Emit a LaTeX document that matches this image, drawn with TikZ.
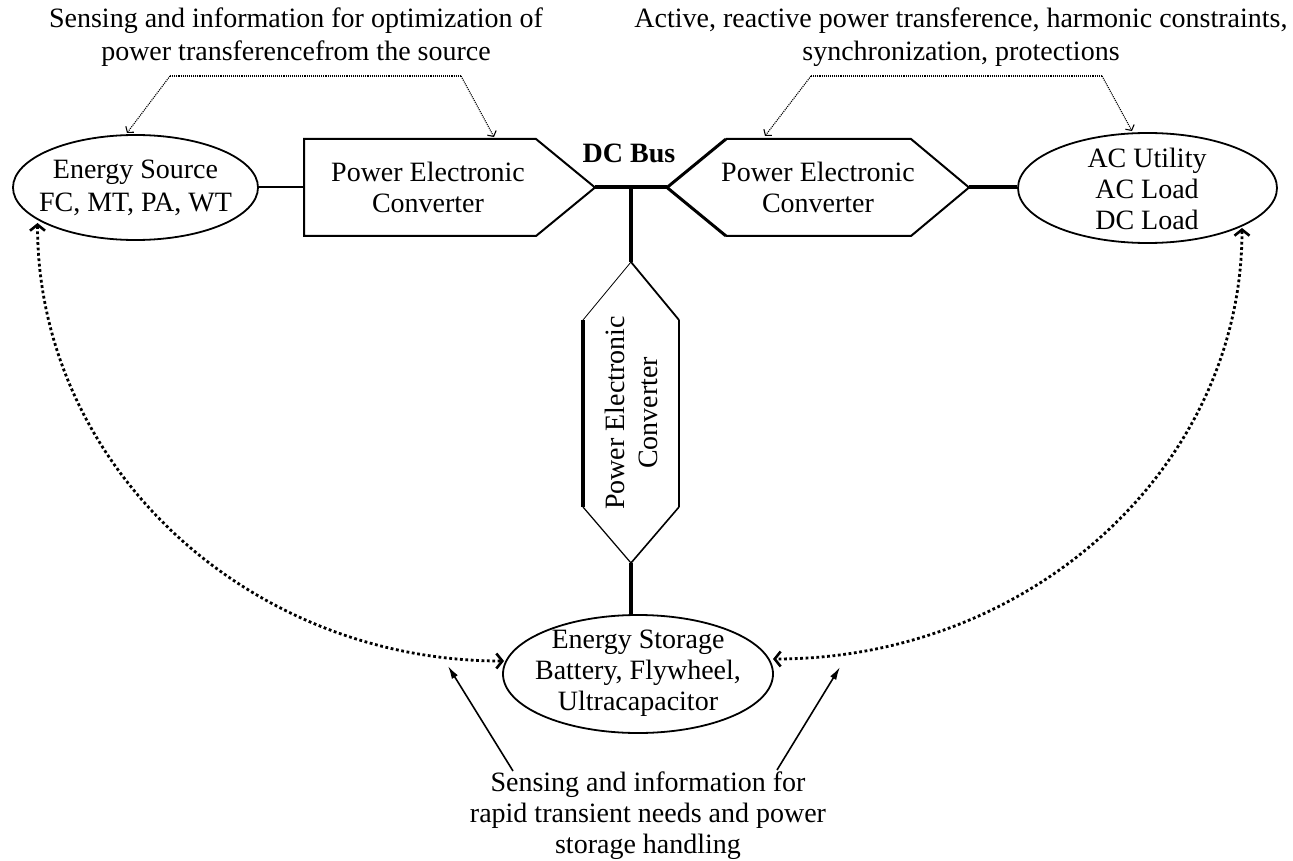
\documentclass[tikz,border=0pt]{standalone}
\usepackage{fontspec}
\setmainfont{Liberation Serif}
\usetikzlibrary{arrows.meta,shapes.geometric,calc}
\begin{document}
\begin{tikzpicture}[x=1pt,y=-1pt,
  every node/.style={font=\fontsize{28}{31}\selectfont, align=center, inner sep=0pt},
  wide/.style={font=\fontsize{28}{33}\selectfont},
  ell/.style={draw, ellipse, line width=1.8pt},
  box/.style={draw, line width=2pt, line join=miter},
  bus/.style={line width=4pt},
  note/.style={line width=1.1pt, densely dotted},
  notetip/.style={-{Straight Barb[length=4pt,width=10pt,line width=1.1pt]}},
  bigdot/.style={line width=2.8pt, dash pattern=on 2.8pt off 2.6pt,
     {Straight Barb[length=6pt,width=15pt,line width=2.6pt]}-{Straight Barb[length=6pt,width=15pt,line width=2.6pt]}},
  solidarrow/.style={line width=1.6pt, -{Latex[length=13pt,width=7pt]}}
]
\useasboundingbox (0,0) rectangle (1293,861);

% top texts
\node[wide] (t1) at (296,37) {Sensing and information for optimization of\\power transferencefrom the source};
\node[wide] (t2) at (961,37) {Active, reactive power transference, harmonic constraints,\\synchronization, protections};

% energy source
\node[ell, minimum width=245pt, minimum height=105pt] (src) at (135.5,187.5) {};
\node[wide] (srcT) at (src) {Energy Source\\FC, MT, PA, WT};

% left converter
\coordinate (c1L) at (304,187.5);
\coordinate (c1R) at (595,187.5);
\draw[box] (304,139) -- (536,139) -- (c1R) -- (536,236) -- (304,236) -- cycle;
\node (c1) at (428,187.5) {Power Electronic\\Converter};

% right converter
\coordinate (c2L) at (667,187.5);
\coordinate (c2R) at (969,187.5);
\draw[line width=3pt] (726,139) -- (c2L) -- (726,236);
\draw[box] (726,139) -- (911,139) -- (c2R) -- (911,236) -- (726,236);
\node (c2) at (818,187.5) {Power Electronic\\Converter};

% AC side
\node[ell, minimum width=259pt, minimum height=110pt] (ac) at (1147.5,188) {};
\node (acT) at (1147,188.5) {AC Utility\\AC Load\\DC Load};

% DC bus
\node (dcbus) at (629,153) {\bfseries DC Bus};
\coordinate (busJ) at (631,187.5);
\draw[bus] (c1R) -- (c2L);
\draw[line width=2pt] (src.east) -- (c1L);
\draw[bus] (c2R) -- (c2R -| ac.west);

% vertical converter
\coordinate (c3T) at (631,262);
\coordinate (c3TR) at (679,320);
\coordinate (c3BR) at (679,507);
\coordinate (c3B) at (631,563);
\coordinate (c3BL) at (583,507);
\coordinate (c3TL) at (583,320);
\draw[line width=0.8pt] (c3T) -- (c3TL);
\draw[line width=1.8pt] (c3T) -- (c3TR);
\draw[line width=2.4pt] (c3TR) -- (c3BR);
\draw[line width=1.6pt] (c3BR) -- (c3B);
\draw[line width=4pt] (c3TL) -- (c3BL);
\draw[line width=1.2pt] (c3BL) -- (c3B);
\node[rotate=90, wide] (c3) at (631,413) {Power Electronic\\Converter};
\draw[line width=3.5pt] (busJ) -- (c3T);

% storage
\node[ell, minimum width=270pt, minimum height=118pt] (sto) at (638,674) {};
\node (stoT) at (638,673) {Energy Storage\\Battery, Flywheel,\\Ultracapacitor};
\draw[line width=3.5pt] (c3B) -- (c3B |- sto.north);

% bottom text
\node (bot) at (648,816) {Sensing and information for\\rapid transient needs and power\\storage handling};

% top brackets
\coordinate (b1a) at (170,76);
\coordinate (b1b) at (461,76);
\coordinate (b1l) at (127,133);
\coordinate (b1r) at (494,137);
\draw[note] (b1a) -- (b1b);
\draw[note, notetip] (b1a) -- (b1l);
\draw[note, notetip] (b1b) -- (b1r);
\coordinate (b2a) at (811,76);
\coordinate (b2b) at (1102,76);
\coordinate (b2l) at (765,136);
\coordinate (b2r) at (1132,131);
\draw[note] (b2a) -- (b2b);
\draw[note, notetip] (b2a) -- (b2l);
\draw[note, notetip] (b2b) -- (b2r);

% big dotted arcs
\coordinate (srcTip) at (37.5,223);
\coordinate (stoL) at (504,661);
\coordinate (acTip) at (1242,228);
\coordinate (stoR) at (773,659);
\draw[bigdot] (srcTip) .. controls (37.5,465) and (247,661) .. (stoL);
\draw[bigdot] (acTip) .. controls (1242,466) and (1032,659) .. (stoR);

% solid arrows
\coordinate (sa1) at (513,771);
\coordinate (sa1t) at (448,666);
\coordinate (sa2) at (777,770);
\coordinate (sa2t) at (840,667);
\draw[solidarrow] (sa1) -- (sa1t);
\draw[solidarrow] (sa2) -- (sa2t);
\end{tikzpicture}
\end{document}
